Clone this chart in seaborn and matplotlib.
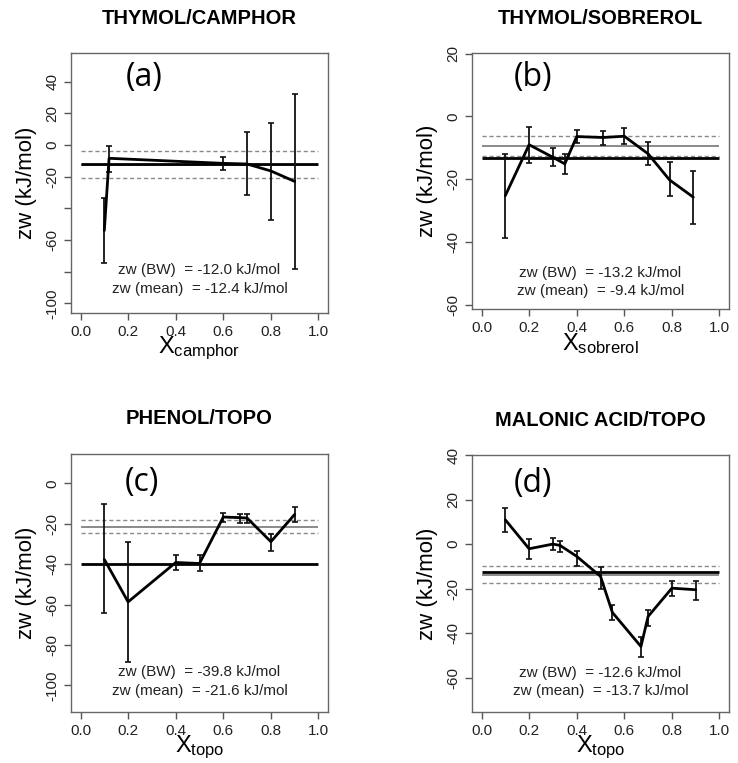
import numpy as np
import seaborn as sns
import matplotlib.pyplot as plt

# data (x, zw, lower/upper error limits)
x_a = [0.10, 0.12, 0.60, 0.70, 0.80, 0.90]
zw_a = [-54.0, -8.4, -11.6, -12.0, -16.4, -23.0]
lo_a = [-74.7, -16.8, -15.8, -31.6, -47.4, -78.3]
hi_a = [-33.7, -0.4, -7.4, 8.4, 14.1, 32.2]

x_b = [0.10, 0.20, 0.30, 0.35, 0.40, 0.51, 0.60, 0.70, 0.79, 0.89]
zw_b = [-25.2, -9.0, -13.0, -15.1, -6.4, -6.7, -6.3, -11.9, -20.2, -25.7]
lo_b = [-38.8, -14.9, -15.9, -18.3, -8.4, -9.0, -8.7, -15.3, -25.4, -34.3]
hi_b = [-11.9, -3.2, -10.1, -11.9, -4.3, -4.5, -3.7, -8.0, -14.6, -17.4]

x_c = [0.10, 0.20, 0.40, 0.50, 0.60, 0.67, 0.70, 0.80, 0.90]
zw_c = [-37.7, -58.7, -39.2, -39.7, -16.7, -17.0, -17.2, -28.9, -15.4]
lo_c = [-64.1, -88.4, -43.0, -43.3, -19.0, -19.5, -19.5, -33.4, -19.0]
hi_c = [-10.4, -29.3, -35.5, -35.5, -14.9, -15.2, -15.2, -25.3, -11.6]

x_d = [0.10, 0.20, 0.30, 0.33, 0.40, 0.50, 0.55, 0.67, 0.70, 0.80, 0.90]
zw_d = [10.9, -2.1, 0.0, -0.6, -5.5, -14.5, -30.7, -46.0, -32.5, -19.8, -20.5]
lo_d = [5.4, -6.6, -2.8, -3.7, -10.0, -20.2, -34.0, -50.8, -36.7, -23.2, -25.0]
hi_d = [16.2, 2.2, 2.7, 1.6, -3.0, -10.5, -27.5, -41.6, -29.5, -16.8, -16.5]

# BW estimate, mean, and band around the mean
bw = [-12.0, -13.2, -39.8, -12.6]
mean = [-12.4, -9.4, -21.6, -13.7]
band_lo = [-21.0, -12.6, -24.8, -17.5]
band_hi = [-3.8, -6.3, -18.2, -10.0]

titles = ['THYMOL/CAMPHOR', 'THYMOL/SOBREROL', 'PHENOL/TOPO', 'MALONIC ACID/TOPO']
letters = ['(a)', '(b)', '(c)', '(d)']
xlabels = [r'$\mathregular{X_{camphor}}$', r'$\mathregular{X_{sobrerol}}$',
           r'$\mathregular{X_{topo}}$', r'$\mathregular{X_{topo}}$']
ylims = [(-106.1, 58.1), (-61.3, 20.2), (-113.2, 14.5), (-75.4, 40.0)]
yticks = [np.arange(-100, 41, 20), np.arange(-60, 21, 20),
          np.arange(-100, 1, 20), np.arange(-60, 41, 20)]
ylabels_shown = [[40, 20, 0, -20, -60, -100], [20, 0, -20, -40, -60],
                 [0, -20, -40, -60, -80, -100], [40, 20, 0, -20, -40, -60]]
text_y = [(-79, -91), (-49.9, -55.7), (-93.4, -102.8), (-57.8, -66.0)]
letter_pos = [(0.284, 0.905), (0.237, 0.905), (0.276, 0.888), (0.237, 0.89)]

sns.set_theme(style='ticks')
plt.rcParams['font.family'] = ['Liberation Sans', 'DejaVu Sans']
plt.rcParams['mathtext.fontset'] = 'custom'
plt.rcParams['mathtext.rm'] = 'Liberation Sans'

W, H = 738, 763
fig = plt.figure(figsize=(W / 100, H / 100), dpi=100)
boxes = [(71, 328, 53, 313), (472, 729, 53, 309), (71, 328, 454, 712), (472, 729, 455, 712)]

data = [(x_a, zw_a, lo_a, hi_a), (x_b, zw_b, lo_b, hi_b),
        (x_c, zw_c, lo_c, hi_c), (x_d, zw_d, lo_d, hi_d)]

for i, (x, zw, lo, hi) in enumerate(data):
    l, r, t, b = boxes[i]
    ax = fig.add_axes([l / W, 1 - b / H, (r - l) / W, (b - t) / H])
    zw = np.array(zw)
    yerr = [zw - np.array(lo), np.array(hi) - zw]

    ax.hlines([band_lo[i], band_hi[i]], 0, 1, colors='#8a8a8a', linestyles=(0, (3, 2)), lw=1.0)
    ax.hlines(mean[i], 0, 1, colors='#8a8a8a', lw=1.4)
    ax.hlines(bw[i], 0, 1, colors='black', lw=2.0)

    ax.errorbar(x, zw, yerr=yerr, fmt='none', ecolor='#111111', elinewidth=1.3, capsize=2, capthick=1.2)
    sns.lineplot(x=x, y=zw, ax=ax, color='black', lw=2.0, sort=False, estimator=None)

    ax.set_xlim(-0.04, 1.04)
    ax.set_ylim(*ylims[i])
    ax.set_xticks(np.arange(0, 1.01, 0.2))
    ax.set_xticklabels([f'{v:.1f}' for v in np.arange(0, 1.01, 0.2)])
    ax.set_yticks(yticks[i])
    ax.set_yticklabels([str(v) if v in ylabels_shown[i] else '' for v in yticks[i]],
                       rotation=90, va='center')
    ax.tick_params(labelsize=11, colors='#555555', labelcolor='#222222', length=5, width=1)
    for s in ax.spines.values():
        s.set_color('#666666')
        s.set_linewidth(1.0)

    ax.set_xlabel(xlabels[i], fontsize=17, labelpad=-3, color='black')
    ax.set_ylabel('zw (kJ/mol)', fontsize=16, labelpad=6, color='black')

    ax.text(0.5, text_y[i][0], f'zw (BW)  = {bw[i]:.1f} kJ/mol', ha='center', va='center', fontsize=11, color='#222222')
    ax.text(0.5, text_y[i][1], f'zw (mean)  = {mean[i]:.1f} kJ/mol', ha='center', va='center', fontsize=11, color='#222222')
    ax.text(*letter_pos[i], letters[i], transform=ax.transAxes, ha='center', va='center',
            fontsize=23, family=['Open Sans', 'DejaVu Sans'], color='black')

    fig.text((l + r) / 2 / W, 1 - (t - 35) / H, titles[i], ha='center', va='center',
             fontsize=14.5, fontweight='bold', color='black')

fig.savefig('out.png', dpi=100)
